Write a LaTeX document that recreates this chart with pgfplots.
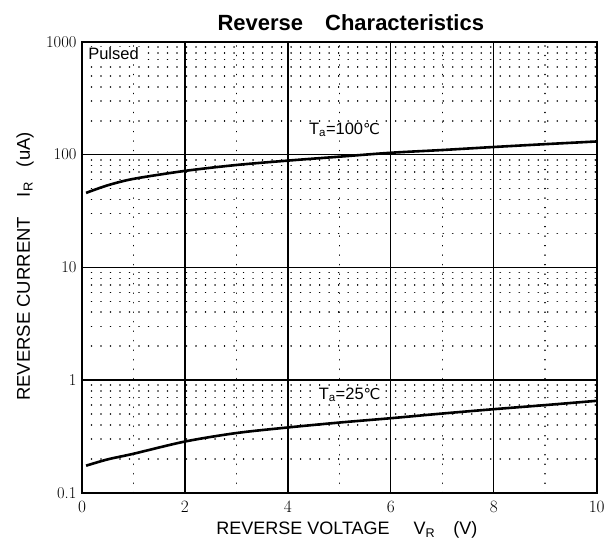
\documentclass[border=0pt]{standalone}
\usepackage{pgfplots}
\pgfplotsset{compat=1.18}
\usetikzlibrary{calc}
\usepackage{fontspec}
\setmainfont{Liberation Sans}
\newfontfamily\dejavu{DejaVu Sans}
\newfontfamily\lmr{Latin Modern Roman}
\begin{document}
\begin{tikzpicture}
\begin{axis}[
  name=ax,
  scale only axis,
  width=515pt, height=451pt,
  xmin=0, xmax=10,
  ymode=log, ymin=0.1, ymax=1000,
  xtick={0,2,4,6,8,10},
  minor x tick num=1,
  ytick={0.1,1,10,100,1000},
  yticklabels={0.1,1,10,100,1000},
  major tick length=0pt, minor tick length=0pt,
  grid=both,
  major grid style={black, line width=1.3pt},
  minor grid style={black, line width=1.6pt, dash pattern=on 0.01pt off 9.5pt, line cap=round},
  axis line style={black, line width=1.5pt},
  tick label style={font=\fontsize{16.5}{18}\selectfont\lmr},
  xticklabel style={anchor=base, yshift=-20pt},
  yticklabel style={xshift=-2pt},
  title={\bfseries Reverse\hspace{22pt}Characteristics},
  title style={font=\fontsize{22}{24}\selectfont, at={(rel axis cs:0.5,1)}, anchor=base, yshift=5pt, xshift=11.5pt},
  clip=true,
]
\addplot[black, line width=2.6pt, smooth] coordinates {
(0.08,45.8) (0.5,53.5) (1,61) (2,71.8) (3,81) (4,88.6) (5,96) (6,104) (7,110) (8,117) (9,124) (10,131)
};
\addplot[black, line width=2.6pt, smooth] coordinates {
(0.08,0.174) (0.5,0.198) (1,0.222) (2,0.285) (3,0.339) (4,0.38) (5,0.42) (6,0.459) (7,0.505) (8,0.552) (9,0.60) (10,0.655)
};
\node[anchor=north west, fill=white, inner sep=1pt, font=\fontsize{16.5}{19}\selectfont] at (rel axis cs:0.01,0.99) {Pulsed};
\node[fill=white, inner sep=0.5pt, font=\fontsize{16.5}{19}\selectfont] at (axis cs:5.1,166) {T\textsubscript{a}=100{\dejavu\fontsize{15}{17}\selectfont ℃}};
\node[fill=white, inner sep=0.5pt, font=\fontsize{16.5}{19}\selectfont] at (axis cs:5.2,0.74) {T\textsubscript{a}=25{\dejavu\fontsize{15}{17}\selectfont ℃}};
\coordinate (bl) at (rel axis cs:0,0);
\coordinate (cl) at (rel axis cs:0,0.502);
\coordinate (bc) at (rel axis cs:0.5,0);
\end{axis}
\node[anchor=base, font=\fontsize{18}{20}\selectfont] at ($(bc)+(7.5pt,-42pt)$) {REVERSE VOLTAGE\hspace{24pt}V\textsubscript{R}\hspace{18pt}(V)};
\node[rotate=90, font=\fontsize{18.5}{20}\selectfont] at ($(cl)+(-57pt,0)$) {REVERSE CURRENT\hspace{20pt}I\textsubscript{R}\hspace{15pt}(uA)};
\path ($(bl)+(-82pt,-50pt)$) rectangle ($(bl)+(526pt,493pt)$);
\end{tikzpicture}
\end{document}
